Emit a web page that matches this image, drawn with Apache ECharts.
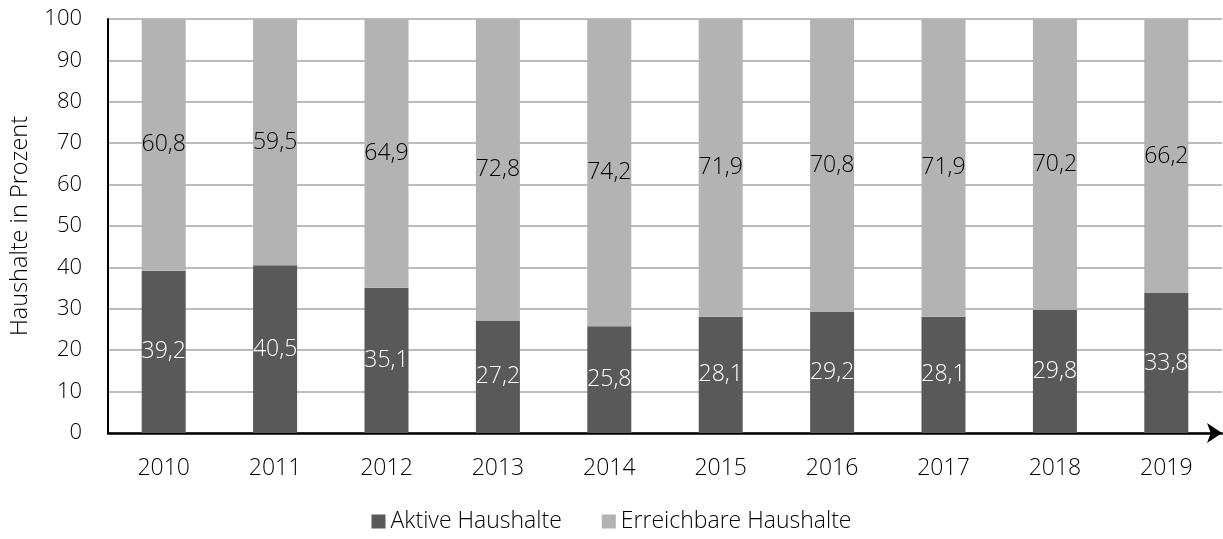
<!DOCTYPE html>
<html>
<head>
<meta charset="utf-8">
<script src="https://cdn.jsdelivr.net/npm/echarts@6/dist/echarts.min.js"></script>
<style>
  html, body { margin: 0; padding: 0; background: #fff; }
  #chart { width: 1223px; height: 539px; }
</style>
</head>
<body>
<div id="chart"></div>
<script>
// Daten
const years = ['2010', '2011', '2012', '2013', '2014', '2015', '2016', '2017', '2018', '2019'];
const aktive = [39.2, 40.5, 35.1, 27.2, 25.8, 28.1, 29.2, 28.1, 29.8, 33.8];
const erreichbar = [60.8, 59.5, 64.9, 72.8, 74.2, 71.9, 70.8, 71.9, 70.2, 66.2];

const font = "'Open Sans', 'DejaVu Sans', sans-serif";
const fmt = p => String(p.value).replace('.', ',');

const chart = echarts.init(document.getElementById('chart'));
chart.setOption({
    animation: false,
    textStyle: { fontFamily: font, fontWeight: 300 },
    grid: { left: 108, right: 1, top: 19, bottom: 106 },
    legend: {
        bottom: 1,
        left: 'center',
        itemWidth: 14,
        itemHeight: 14,
        itemGap: 40,
        icon: 'rect',
        textStyle: { fontSize: 23, color: '#000', fontFamily: font, fontWeight: 300 },
        data: ['Aktive Haushalte', 'Erreichbare Haushalte']
    },
    xAxis: {
        type: 'category',
        data: years,
        axisLine: {
            lineStyle: { color: '#000', width: 2.5 },
            symbol: ['none', 'arrow'],
            symbolSize: [15, 15]
        },
        axisTick: { show: false },
        axisLabel: { margin: 24, fontSize: 23, color: '#000', fontFamily: font, fontWeight: 300 }
    },
    yAxis: {
        type: 'value',
        min: 0,
        max: 100,
        interval: 10,
        name: 'Haushalte in Prozent',
        nameLocation: 'middle',
        nameGap: 76,
        nameRotate: 90,
        nameTextStyle: { fontSize: 23.5, color: '#000', fontFamily: font, fontWeight: 300 },
        axisLine: { show: true, lineStyle: { color: '#000', width: 2 } },
        axisTick: { show: false },
        axisLabel: { margin: 26, fontSize: 22, color: '#000', fontFamily: font, fontWeight: 300 },
        splitLine: { lineStyle: { color: '#a6a6a6', width: 1.5 } }
    },
    series: [
        {
            name: 'Aktive Haushalte',
            type: 'bar',
            stack: 'total',
            barWidth: 44,
            data: aktive,
            itemStyle: { color: '#595959' },
            label: {
                show: true, position: 'inside', formatter: fmt,
                fontSize: 23, color: '#fff', fontFamily: font, fontWeight: 300
            }
        },
        {
            name: 'Erreichbare Haushalte',
            type: 'bar',
            stack: 'total',
            barWidth: 44,
            data: erreichbar,
            itemStyle: { color: '#b3b3b3' },
            label: {
                show: true, position: 'inside', formatter: fmt,
                fontSize: 23, color: '#000', fontFamily: font, fontWeight: 300
            }
        }
    ]
});
</script>
</body>
</html>
